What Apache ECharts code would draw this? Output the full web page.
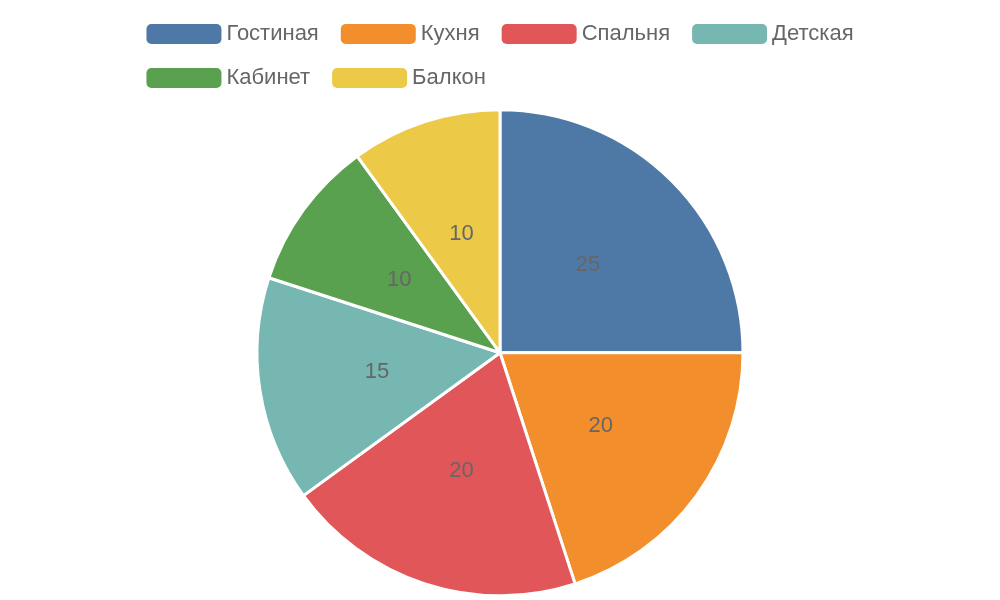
<!DOCTYPE html>
<html><head><meta charset="utf-8">
<script src="https://cdn.jsdelivr.net/npm/echarts@6/dist/echarts.min.js"></script>
<style>html,body{margin:0;padding:0;background:#fff}#c{width:1000px;height:600px}</style>
</head><body><div id="c"></div>
<script>
const categories = ['Гостиная','Кухня','Спальня','Детская','Кабинет','Балкон'];
const values = [25,20,20,15,10,10];
const colors = ['#4e79a7','#f28e2b','#e15759','#76b7b2','#59a14f','#edc948'];
const chart = echarts.init(document.getElementById('c'));
chart.setOption({
  color: colors,
  textStyle:{fontFamily:'Liberation Sans, Arial, sans-serif'},
  legend:{top:18,left:'center',width:820,itemWidth:75,itemHeight:20,itemGap:22,itemStyle:{borderWidth:0},
    textStyle:{fontSize:22,color:'#666'}},
  series:[{type:'pie',radius:'81%',center:['50%','58.8%'],startAngle:90,
    itemStyle:{borderColor:'#fff',borderWidth:3},
    label:{show:true,position:'inside',fontSize:22,color:'#666',formatter:'{c}'},
    labelLine:{show:false},
    data: categories.map((n,i)=>({name:n,value:values[i]}))}]
});
</script></body></html>
